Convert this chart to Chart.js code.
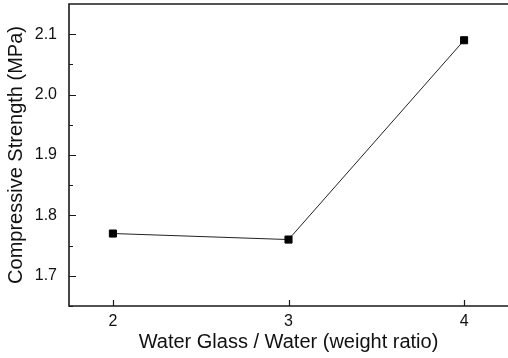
<!DOCTYPE html>
<html>
<head>
<meta charset="utf-8">
<script src="https://cdn.jsdelivr.net/npm/chart.js@4/dist/chart.umd.min.js"></script>
<style>
  html, body { margin: 0; padding: 0; background: #fff; }
  #wrap { width: 508px; height: 358px; }
</style>
</head>
<body>
<div id="wrap"><canvas id="strengthChart" width="508" height="358"></canvas></div>
<script>
// data
const ratios = [2, 3, 4];
const strength = [1.77, 1.76, 2.09];
const xTicks = [2, 3, 4];
const yTicks = [1.7, 1.8, 1.9, 2.0, 2.1];

const AXIS = '#1a1a1a';
const FONT = "Arial, 'Liberation Sans', sans-serif";

// Origin-style frame: left, bottom and top lines, ticks pointing inward
const framePlugin = {
    id: 'frame',
    afterDatasetsDraw(chart) {
        const ctx = chart.ctx;
        const a = chart.chartArea;
        const xs = chart.scales.x;
        const ys = chart.scales.y;
        ctx.save();
        ctx.strokeStyle = AXIS;
        ctx.lineWidth = 1.6;
        ctx.beginPath();
        ctx.moveTo(a.right + 2, a.top);
        ctx.lineTo(a.left, a.top);
        ctx.lineTo(a.left, a.bottom);
        ctx.lineTo(a.right + 2, a.bottom);
        ctx.stroke();

        ctx.lineWidth = 1.2;
        ctx.beginPath();
        xTicks.forEach(function(v) {
            const px = Math.round(xs.getPixelForValue(v)) + 0.5;
            ctx.moveTo(px, a.bottom);
            ctx.lineTo(px, a.bottom - 6);
        });
        yTicks.forEach(function(v) {
            const py = Math.round(ys.getPixelForValue(v)) + 0.5;
            ctx.moveTo(a.left, py);
            ctx.lineTo(a.left + 7, py);
            // minor tick halfway
            const pm = Math.round(ys.getPixelForValue(v - 0.05)) + 0.5;
            ctx.moveTo(a.left, pm);
            ctx.lineTo(a.left + 4, pm);
        });
        const pLast = Math.round(ys.getPixelForValue(yTicks[yTicks.length - 1] + 0.05)) + 0.5;
        if (pLast > a.top + 2) {
            ctx.moveTo(a.left, pLast);
            ctx.lineTo(a.left + 4, pLast);
        }
        ctx.stroke();
        ctx.restore();
    }
};

const ctx = document.getElementById('strengthChart').getContext('2d');
new Chart(ctx, {
    type: 'line',
    data: {
        datasets: [{
            data: ratios.map(function(r, i) { return { x: r, y: strength[i] }; }),
            borderColor: '#222',
            borderWidth: 1,
            pointStyle: 'rect',
            pointRadius: 5,
            pointBackgroundColor: '#000',
            pointBorderColor: '#000',
            pointBorderWidth: 1,
            tension: 0,
            clip: false
        }]
    },
    plugins: [framePlugin],
    options: {
        responsive: false,
        animation: false,
        layout: { autoPadding: false, padding: { top: 4, right: 0, left: 0, bottom: 0 } },
        plugins: {
            legend: { display: false },
            tooltip: { enabled: false }
        },
        scales: {
            x: {
                type: 'linear',
                min: 1.75,
                max: 4.25,
                grid: { display: false, drawTicks: false },
                border: { display: false },
                afterBuildTicks: function(s) { s.ticks = xTicks.map(function(v) { return { value: v }; }); },
                afterFit: function(s) {
                    s.height = 52;
                    s.paddingLeft = 0;
                    s.paddingRight = 0;
                },
                ticks: {
                    color: '#111',
                    padding: 6,
                    maxRotation: 0,
                    font: { family: FONT, size: 16 },
                    callback: function(v) { return String(v); }
                },
                title: {
                    display: true,
                    text: 'Water Glass / Water (weight ratio)',
                    color: '#111',
                    font: { family: FONT, size: 20 },
                    padding: { top: 0, bottom: 4 }
                }
            },
            y: {
                min: 1.65,
                max: 2.15,
                grid: { display: false, drawTicks: false },
                border: { display: false },
                afterBuildTicks: function(s) { s.ticks = yTicks.map(function(v) { return { value: v }; }); },
                afterFit: function(s) {
                    s.width = 69;
                    s.paddingTop = 0;
                    s.paddingBottom = 0;
                },
                ticks: {
                    color: '#111',
                    padding: 12,
                    font: { family: FONT, size: 16 },
                    callback: function(v) { return Number(v).toFixed(1); }
                },
                title: {
                    display: true,
                    text: 'Compressive Strength (MPa)',
                    color: '#111',
                    font: { family: FONT, size: 20 },
                    padding: { top: 4, bottom: 0 }
                }
            }
        }
    }
});
</script>
</body>
</html>
